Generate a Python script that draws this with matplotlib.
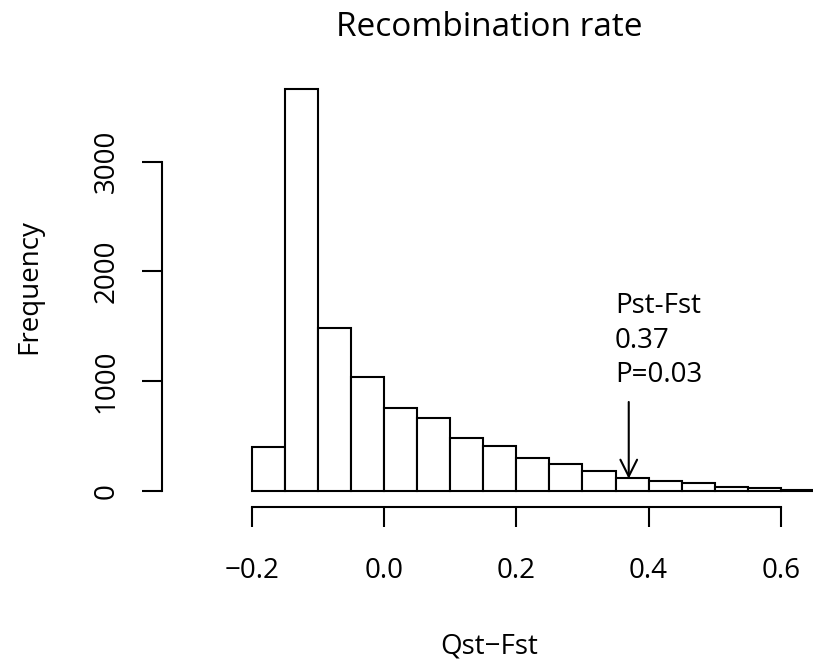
import matplotlib
matplotlib.use("Agg")
import matplotlib.pyplot as plt
import numpy as np

plt.rcParams['font.family'] = ['Open Sans', 'DejaVu Sans']

# ---- data ----
bin_edges = [-0.20, -0.15, -0.10, -0.05, 0.00, 0.05, 0.10, 0.15, 0.20, 0.25,
             0.30, 0.35, 0.40, 0.45, 0.50, 0.55, 0.60, 0.65]
counts = [397, 3666, 1485, 1039, 757, 667, 479, 409, 303, 243,
          182, 116, 91, 73, 36, 24, 8]
x_ticks = [-0.2, 0.0, 0.2, 0.4, 0.6]
x_tick_labels = ["\u22120.2", "0.0", "0.2", "0.4", "0.6"]
y_ticks = [0, 1000, 2000, 3000]
y_tick_labels = ["0", "1000", "2000", "3000"]
title = "Recombination rate"
xlabel = "Qst\u2212Fst"
ylabel = "Frequency"
obs_value = 0.37
obs_label = ["Pst-Fst", "0.37", "P=0.03"]
arrow_top = 811
arrow_tip = 112

W, H = 813, 662
fig = plt.figure(figsize=(W / 100, H / 100), dpi=100)
# plot region (pixels): left 161.7, right 816, top 72, bottom 507.3
L, R, T, B = 161.7, 816.0, 72.0, 507.3
ax = fig.add_axes([L / W, (H - B) / H, (R - L) / W, (B - T) / H])
ax.set_xlim(-0.3361, 0.6531)
ax.set_ylim(-148.5, 3817)

LW = 1.5
widths = np.diff(bin_edges)
ax.bar(bin_edges[:-1], counts, width=widths, align='edge',
       facecolor='white', edgecolor='black', linewidth=LW)

for s in ['top', 'right']:
    ax.spines[s].set_visible(False)
ax.spines['left'].set_bounds(y_ticks[0], y_ticks[-1])
ax.spines['bottom'].set_bounds(x_ticks[0], x_ticks[-1])
for s in ['left', 'bottom']:
    ax.spines[s].set_linewidth(LW)
    ax.spines[s].set_capstyle('projecting')

ax.set_xticks(x_ticks)
ax.set_xticklabels(x_tick_labels, fontsize=20)
ax.set_yticks(y_ticks)
ax.set_yticklabels(y_tick_labels, fontsize=20, rotation=90, va='center')
ax.tick_params(axis='both', length=14.4, width=LW, direction='out')
ax.tick_params(axis='x', pad=21.5)
ax.tick_params(axis='y', pad=15)

ax.set_title(title, fontsize=24, pad=26)
fig.text(489 / W, (H - 654) / H, xlabel, fontsize=20, ha='center', va='baseline')
fig.text(29 / W, (H - 287) / H, ylabel, fontsize=20, ha='center', va='center',
         rotation=90)

ax.annotate('', xy=(obs_value, arrow_tip), xytext=(obs_value, arrow_top),
            arrowprops=dict(arrowstyle='->,head_length=1.2,head_width=0.6',
                            color='black', lw=LW, shrinkA=0, shrinkB=0))
ax.text(0.349, 993, "\n".join(obs_label), fontsize=20, ha='left', va='baseline',
        linespacing=1.3)

fig.savefig("out.png", dpi=100)
